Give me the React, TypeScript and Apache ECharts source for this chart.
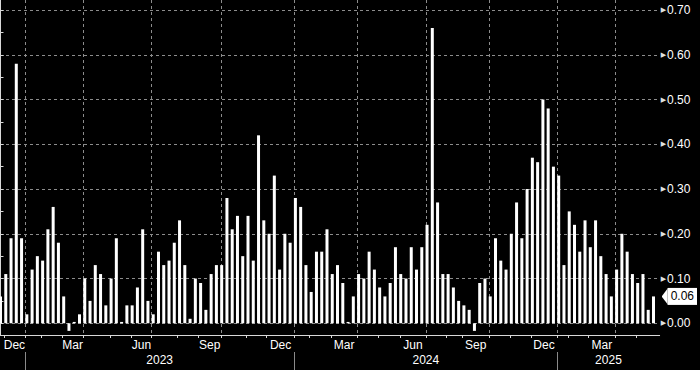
import React, { useEffect, useRef } from 'react';
import * as echarts from 'echarts';

// Weekly values, oldest first (Dec 2022 .. Apr 2025)
const values: number[] = [
  0.06, 0.11, 0.19, 0.58, 0.19, 0.02, 0.12, 0.15, 0.14, 0.21,
  0.26, 0.18, 0.06, -0.017, 0.003, 0.02, 0.10, 0.05, 0.13, 0.11,
  0.04, 0.10, 0.19, 0.003, 0.04, 0.04, 0.08, 0.21, 0.05, 0.02,
  0.16, 0.13, 0.14, 0.18, 0.23, 0.13, 0.01, 0.10, 0.09, 0.03,
  0.11, 0.13, 0.13, 0.28, 0.21, 0.24, 0.15, 0.24, 0.14, 0.42,
  0.23, 0.20, 0.33, 0.12, 0.20, 0.18, 0.28, 0.26, 0.13, 0.07,
  0.16, 0.16, 0.21, 0.11, 0.13, 0.09, 0.003, 0.06, 0.11, 0.10,
  0.16, 0.12, 0.08, 0.06, 0.09, 0.17, 0.11, 0.10, 0.17, 0.12,
  0.17, 0.22, 0.66, 0.27, 0.11, 0.11, 0.08, 0.05, 0.04, 0.03,
  -0.017, 0.09, 0.10, 0.06, 0.19, 0.14, 0.12, 0.20, 0.27, 0.19,
  0.30, 0.37, 0.36, 0.50, 0.48, 0.35, 0.33, 0.13, 0.25, 0.22,
  0.16, 0.23, 0.17, 0.23, 0.15, 0.11, 0.06, 0.12, 0.20, 0.16,
  0.11, 0.09, 0.11, 0.03, 0.06,
];

// Month boundaries on the observation axis (Dec 1 2022 .. May 1 2025), in bar-index units
const monthBoundaries: number[] = [
  0.66, 4.64, 7.80, 11.69, 15.67, 20.91, 24.83, 28.72, 33.64, 37.62,
  41.85, 46.64, 50.56, 55.82, 58.66, 62.78, 67.70, 71.68, 75.88, 80.80,
  84.73, 87.76, 92.75, 96.73, 100.70, 105.73, 107.85, 111.64, 116.75, 120.72,
];
const firstMonth = 11; // December
const firstYear = 2022;
const monthNames = ['Jan', 'Feb', 'Mar', 'Apr', 'May', 'Jun', 'Jul', 'Aug', 'Sep', 'Oct', 'Nov', 'Dec'];
const yTicks: number[] = [0, 0.1, 0.2, 0.3, 0.4, 0.5, 0.6, 0.7];

const X_MIN = -0.0946;
const X_MAX = 125.17;
const Y_MIN = -0.0262;
const Y_MAX = 0.7224;

const FONT = "'Liberation Sans', Arial, sans-serif";

export default function App() {
  const ref = useRef<HTMLDivElement>(null);

  useEffect(() => {
    document.body.style.margin = '0';
    document.body.style.background = '#000';
    if (!ref.current) return;
    const chart = echarts.init(ref.current, undefined, { renderer: 'svg' });

    const monthLabelPos: number[] = [];
    const monthLabelText: string[] = [];
    const quarterLines: number[] = [];
    const yearStarts: number[] = [];
    const yearNames: string[] = [];
    monthBoundaries.forEach((b, k) => {
      const m = (firstMonth + k) % 12;
      const yr = firstYear + Math.floor((firstMonth + k) / 12);
      if ((m === 11 || m === 2 || m === 5 || m === 8) && k + 1 < monthBoundaries.length) {
        monthLabelPos.push((b + monthBoundaries[k + 1]) / 2);
        monthLabelText.push(monthNames[m]);
      }
      if (m % 3 === 0) quarterLines.push(b);
      if (m === 0) {
        yearStarts.push(b);
        yearNames.push(String(yr));
      }
    });
    const yearLabelPos = yearStarts.map((s, i) => (s + (i + 1 < yearStarts.length ? yearStarts[i + 1] : X_MAX)) / 2);

    const minorTicks: number[] = [];
    for (let k = 0; k <= 14; k++) minorTicks.push(k / 20);

    const last = values[values.length - 1];
    const tri =
      'data:image/svg+xml;charset=utf-8,' +
      encodeURIComponent(
        '<svg xmlns="http://www.w3.org/2000/svg" width="6" height="17"><polygon points="0,8.5 6.5,0 6.5,17" fill="#ffffff"/></svg>'
      );

    const findLabel = (pos: number[], txt: string[], v: number) => {
      const i = pos.findIndex((p) => Math.abs(p - v) < 1e-4);
      return i >= 0 ? txt[i] : '';
    };

    const gridLineStyle = { color: '#8c8c8c', width: 1, type: [3, 3] };

    chart.setOption({
      animation: false,
      backgroundColor: '#000000',
      grid: { left: 0, right: 38, top: 0, bottom: 35, containLabel: false },
      xAxis: [
        {
          type: 'value',
          min: X_MIN,
          max: X_MAX,
          position: 'bottom',
          axisLine: { show: true, onZero: false, lineStyle: { color: '#d8d8d8', width: 1 } },
          axisTick: { show: true, customValues: monthBoundaries, length: 3, lineStyle: { color: '#d8d8d8' } },
          axisLabel: {
            customValues: monthLabelPos,
            formatter: (v: number) => findLabel(monthLabelPos, monthLabelText, v),
            color: '#ffffff',
            fontSize: 12,
            fontFamily: FONT,
            margin: 4,
          },
          splitLine: { show: false },
        },
        {
          type: 'value',
          min: X_MIN,
          max: X_MAX,
          position: 'bottom',
          offset: 17,
          axisLine: { show: false, onZero: false },
          axisTick: { show: true, customValues: yearStarts, length: 18, lineStyle: { color: '#8a8a8a' } },
          axisLabel: {
            customValues: yearLabelPos,
            formatter: (v: number) => findLabel(yearLabelPos, yearNames, v),
            color: '#ffffff',
            fontSize: 12,
            fontFamily: FONT,
            margin: 2,
          },
          splitLine: { show: false },
        },
        {
          type: 'value',
          min: X_MIN,
          max: X_MAX,
          position: 'top',
          axisLine: { show: false, onZero: false },
          axisTick: { show: false, customValues: quarterLines },
          axisLabel: { show: false, customValues: quarterLines },
          splitLine: { show: true, lineStyle: gridLineStyle },
        },
      ],
      yAxis: [
        {
          type: 'value',
          position: 'right',
          min: Y_MIN,
          max: Y_MAX,
          axisLine: { show: true, lineStyle: { color: '#d8d8d8', width: 1 } },
          axisTick: { show: true, customValues: yTicks, length: 3, lineStyle: { color: '#d8d8d8' } },
          axisLabel: {
            customValues: yTicks,
            formatter: (v: number) => '{a|▶}{b|' + v.toFixed(2) + '}',
            margin: 1,
            rich: {
              a: { fontSize: 7, color: '#e0e0e0', fontFamily: 'DejaVu Sans', padding: [0, 1, 0, 0] },
              b: { fontSize: 12, color: '#ffffff', fontFamily: FONT },
            },
          },
          splitLine: { show: true, lineStyle: gridLineStyle },
        },
        {
          type: 'value',
          position: 'right',
          min: Y_MIN,
          max: Y_MAX,
          axisLine: { show: false },
          axisTick: { show: false },
          splitLine: { show: false },
          axisLabel: {
            customValues: [last],
            formatter: (v: number) => '{a|}{b|' + v.toFixed(2) + '}',
            margin: 2,
            rich: {
              a: { width: 6, height: 17, backgroundColor: { image: tri } },
              b: {
                backgroundColor: '#ffffff',
                color: '#000000',
                fontSize: 12,
                fontFamily: FONT,
                height: 17,
                lineHeight: 17,
                padding: [0, 3, 0, 3],
              },
            },
          },
        },
        {
          type: 'value',
          position: 'right',
          min: Y_MIN,
          max: Y_MAX,
          axisLine: { show: false },
          axisTick: { show: true, customValues: minorTicks, length: 3, lineStyle: { color: '#d8d8d8' } },
          axisLabel: { show: false, customValues: minorTicks },
          splitLine: { show: false },
        },
      ],
      series: [
        {
          type: 'bar',
          xAxisIndex: 0,
          yAxisIndex: 0,
          data: values.map((v, i) => [i, v]),
          barWidth: 3,
          itemStyle: { color: '#ffffff' },
        },
      ],
    });

    return () => chart.dispose();
  }, []);

  return (
    <div
      ref={ref}
      style={{ position: 'fixed', left: 0, top: 0, width: 700, height: 370, background: '#000' }}
    />
  );
}
